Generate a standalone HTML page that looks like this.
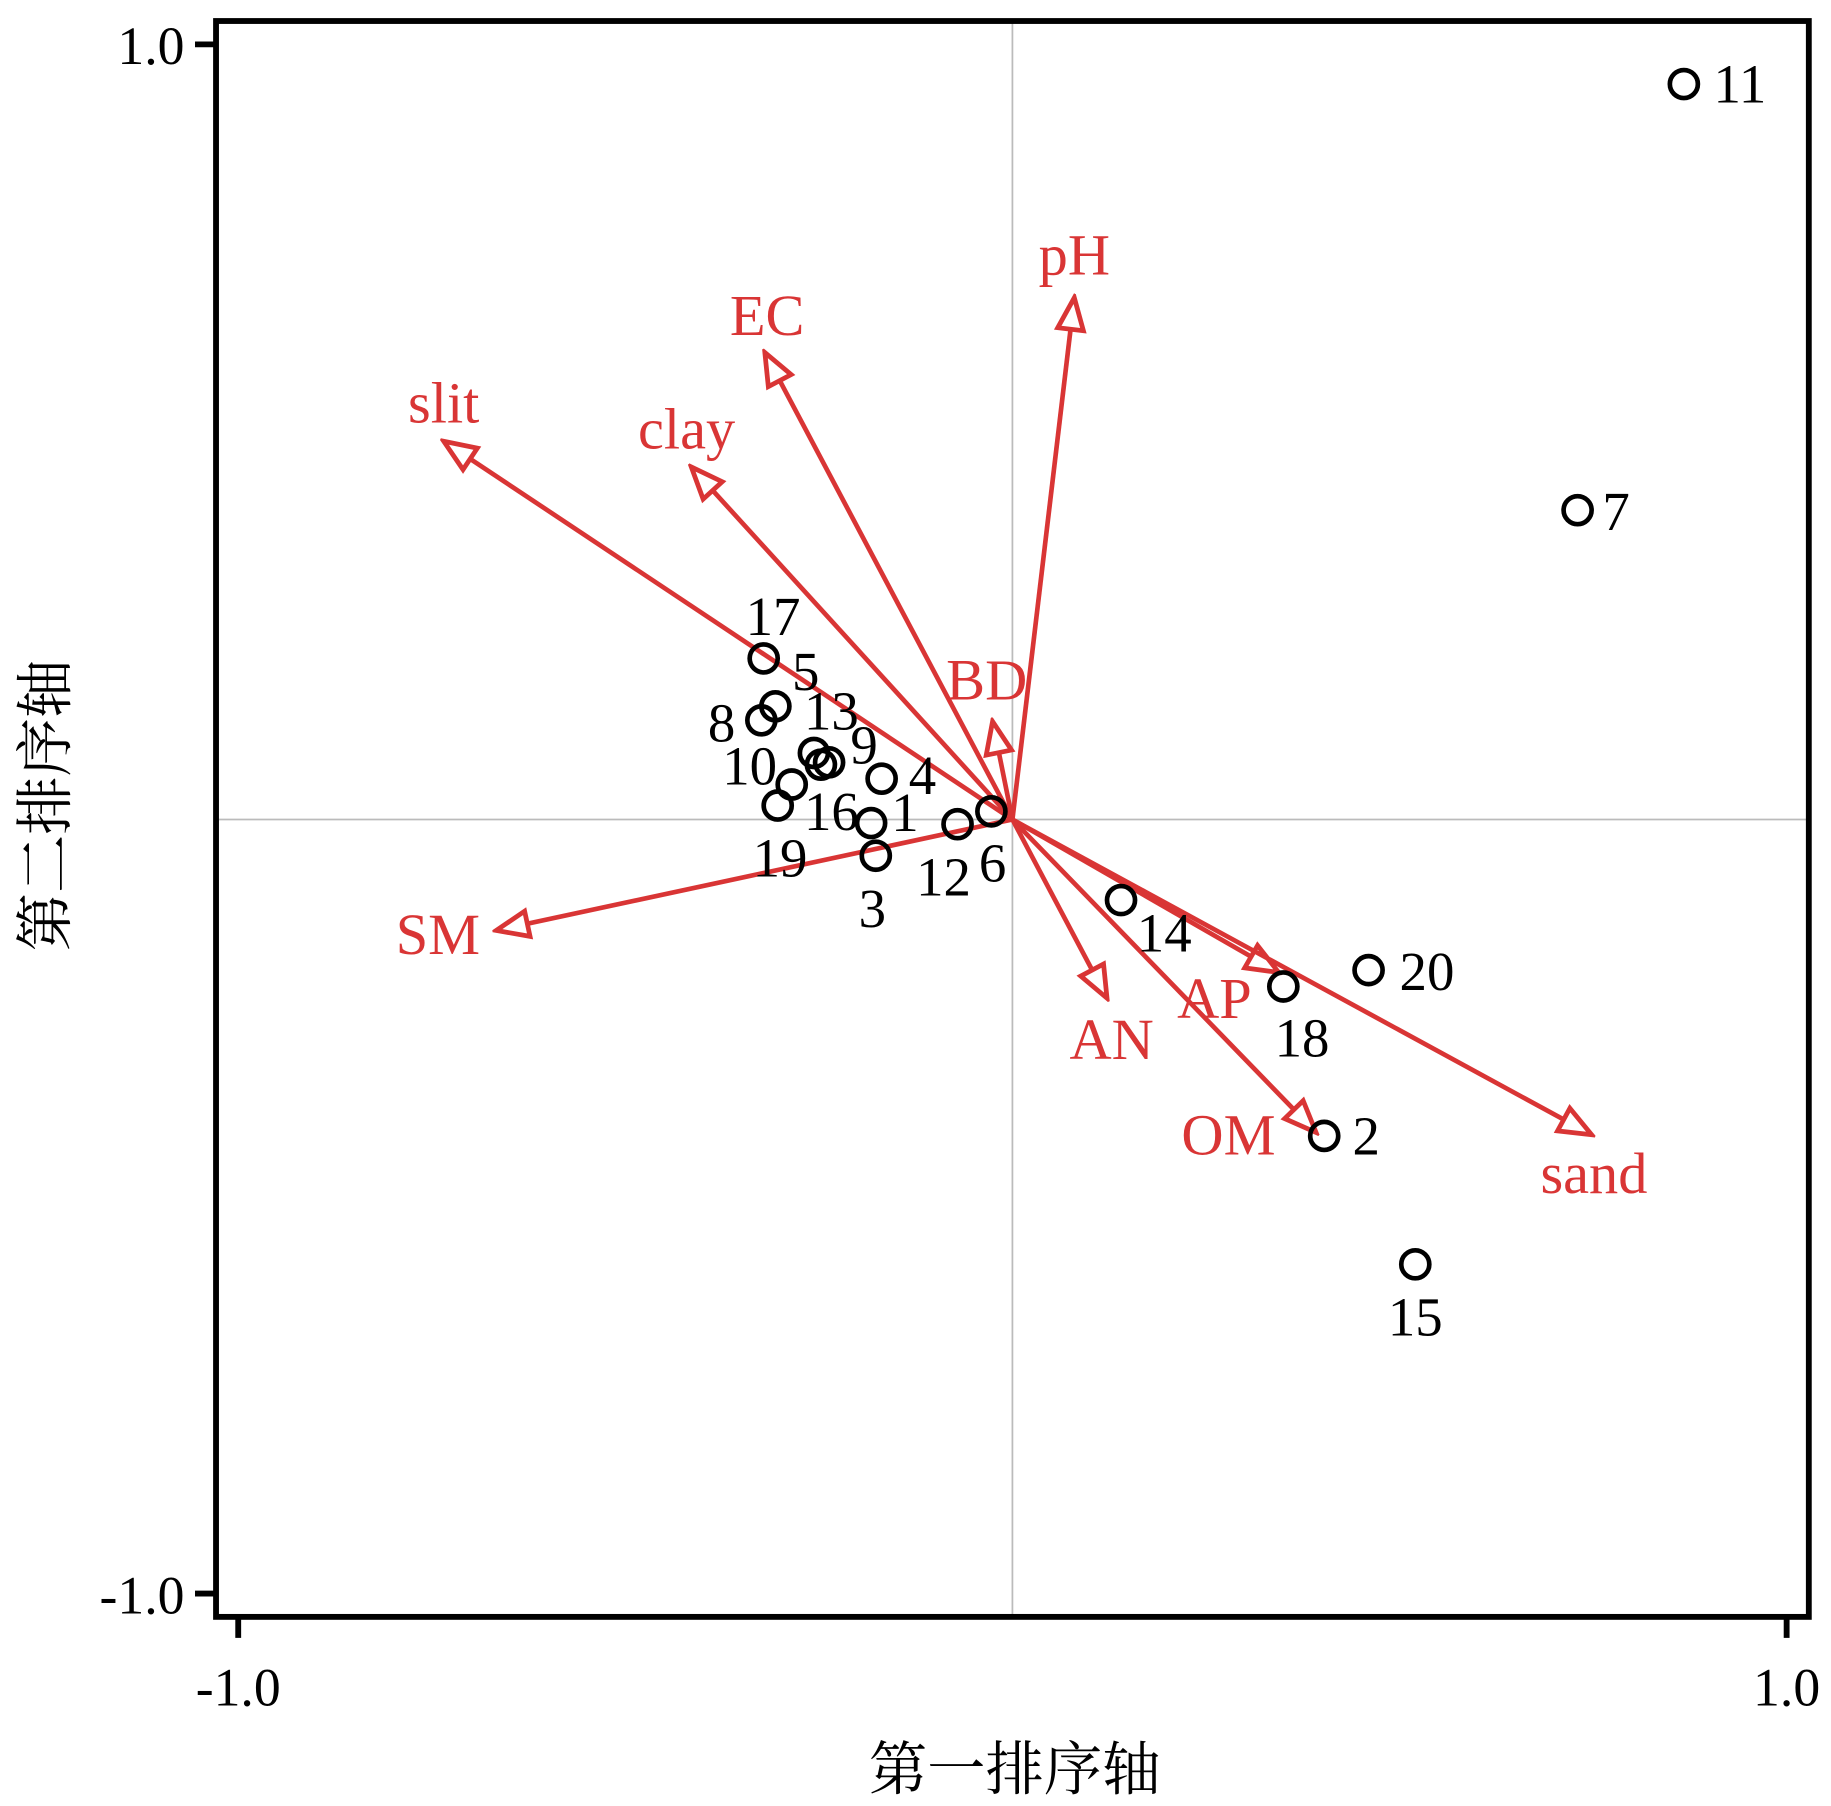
<!DOCTYPE html>
<html><head><meta charset="utf-8"><style>html,body{margin:0;padding:0;background:#fff}svg{display:block}</style></head>
<body>
<svg width="1831" height="1806" viewBox="0 0 1568 1547" preserveAspectRatio="none" xmlns="http://www.w3.org/2000/svg">
<defs>
<marker id="ah" viewBox="0 0 20 20" refX="18" refY="10" markerWidth="34" markerHeight="34" markerUnits="userSpaceOnUse" orient="auto">
<path d="M2,3.5 L18,10 L2,16.5 Z" fill="#fff" stroke="#d93535" stroke-width="2.4" stroke-linejoin="miter"/>
</marker>
</defs>
<line x1="867" y1="20" x2="867" y2="1383" stroke="#bbb" stroke-width="1.5"/>
<line x1="187" y1="702" x2="1547" y2="702" stroke="#bbb" stroke-width="1.5"/>
<rect x="185" y="18" width="1364" height="1367" fill="none" stroke="#000" stroke-width="5"/>
<g stroke="#000" stroke-width="5">
<line x1="167" y1="38" x2="185" y2="38"/><line x1="167" y1="1365" x2="185" y2="1365"/>
<line x1="204" y1="1385" x2="204" y2="1403"/><line x1="1530" y1="1385" x2="1530" y2="1403"/>
</g>
<g font-family="Liberation Serif, serif" font-size="46" fill="#000">
<text x="158" y="55" text-anchor="end">1.0</text>
<text x="158" y="1382" text-anchor="end">-1.0</text>
<text x="204" y="1461" text-anchor="middle">-1.0</text>
<text x="1530" y="1461" text-anchor="middle">1.0</text>
</g>
<text x="869" y="1533" text-anchor="middle" font-family="Noto Serif CJK SC, serif" font-size="50">第一排序轴</text>
<text transform="translate(56,690) rotate(-90)" text-anchor="middle" font-family="Noto Serif CJK SC, serif" font-size="50">第二排序轴</text>
<g stroke="#d93535" stroke-width="4" marker-end="url(#ah)">
<line x1="867" y1="702" x2="920" y2="255"/>
<line x1="867" y1="702" x2="655" y2="302"/>
<line x1="867" y1="702" x2="380" y2="378"/>
<line x1="867" y1="702" x2="592" y2="400"/>
<line x1="867" y1="702" x2="850" y2="618"/>
<line x1="867" y1="702" x2="425" y2="797"/>
<line x1="867" y1="702" x2="948" y2="855"/>
<line x1="867" y1="702" x2="1095" y2="833"/>
<line x1="867" y1="702" x2="1127" y2="970"/>
<line x1="867" y1="702" x2="1363" y2="972"/>
</g>
<g font-family="Liberation Serif, serif" font-size="50" fill="#d93535" text-anchor="middle">
<text x="920" y="235">pH</text>
<text x="657" y="287">EC</text>
<text x="380" y="362">slit</text>
<text x="588" y="384">clay</text>
<text x="845" y="599">BD</text>
<text x="375" y="817">SM</text>
<text x="952" y="907">AN</text>
<text x="1040" y="872">AP</text>
<text x="1052" y="989">OM</text>
<text x="1365" y="1022">sand</text>
</g>
<g fill="none" stroke="#000" stroke-width="4">
<circle cx="1442" cy="72" r="12"/><circle cx="1351" cy="437" r="12"/>
<circle cx="654" cy="564" r="12"/><circle cx="664" cy="605" r="12"/>
<circle cx="652" cy="617" r="12"/><circle cx="697" cy="645" r="12"/>
<circle cx="710" cy="653" r="12"/><circle cx="703" cy="655" r="12"/>
<circle cx="678" cy="672" r="12"/><circle cx="755" cy="667" r="12"/>
<circle cx="666" cy="690" r="12"/><circle cx="746" cy="705" r="12"/>
<circle cx="750" cy="733" r="12"/><circle cx="820" cy="706" r="12"/>
<circle cx="849" cy="695" r="12"/><circle cx="960" cy="771" r="12"/>
<circle cx="1172" cy="831" r="12"/><circle cx="1099" cy="845" r="12"/>
<circle cx="1134" cy="973" r="12"/><circle cx="1212" cy="1083" r="12"/>
</g>
<g font-family="Liberation Serif, serif" font-size="47" fill="#000" text-anchor="middle">
<text x="1490" y="88">11</text><text x="1384" y="454">7</text>
<text x="662" y="544">17</text><text x="690" y="591">5</text>
<text x="618" y="635">8</text><text x="712" y="625">13</text>
<text x="740" y="654">9</text><text x="642" y="672">10</text>
<text x="790" y="680">4</text><text x="712" y="711">16</text>
<text x="668" y="751">19</text><text x="775" y="712">1</text>
<text x="747" y="794">3</text><text x="808" y="767">12</text>
<text x="850" y="755">6</text><text x="997" y="815">14</text>
<text x="1222" y="848">20</text><text x="1115" y="905">18</text>
<text x="1170" y="989">2</text><text x="1212" y="1144">15</text>
</g>
</svg>
</body></html>
